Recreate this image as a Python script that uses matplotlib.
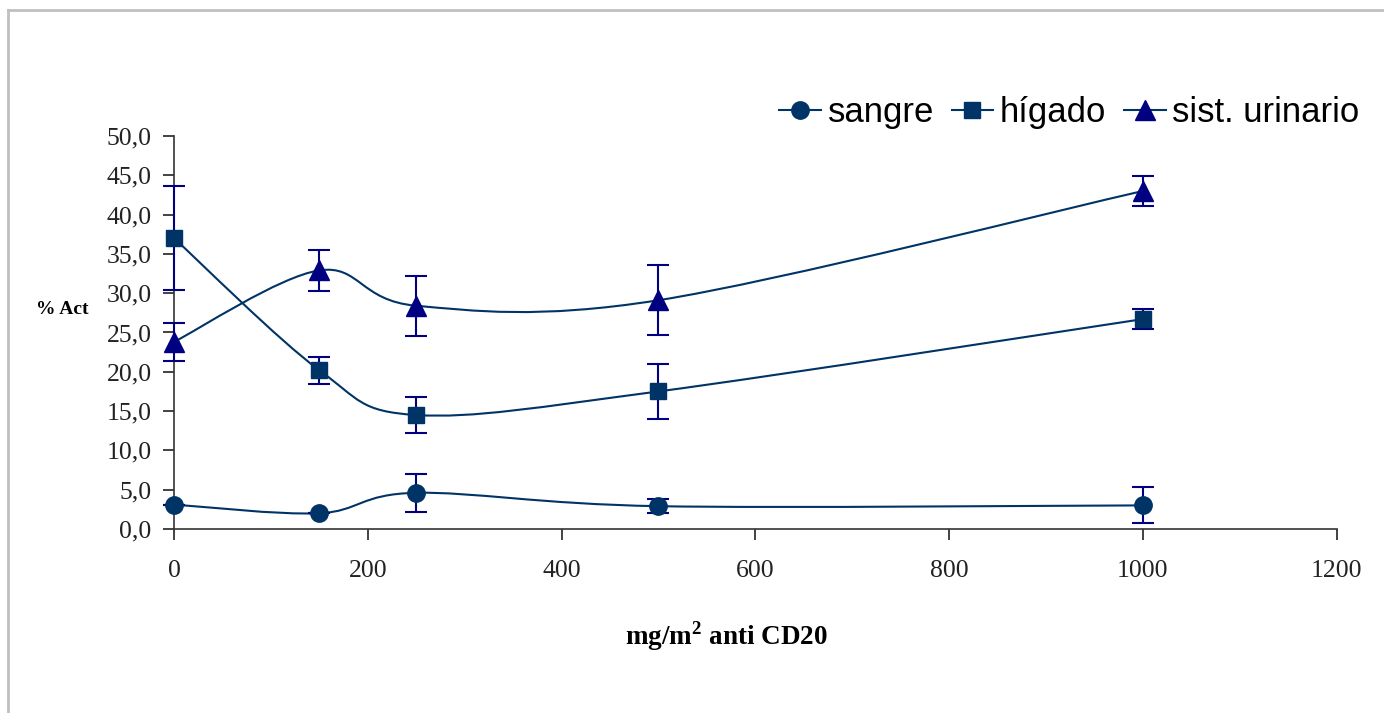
import matplotlib
matplotlib.use("Agg")
import matplotlib.pyplot as plt
from matplotlib.path import Path
from matplotlib.patches import PathPatch
from matplotlib.lines import Line2D
from matplotlib.ticker import FuncFormatter

# datos
dosis = [0, 150, 250, 500, 1000]
sangre = [3.1, 2.0, 4.6, 2.9, 3.0]
sangre_err = [0.0, 0.0, 2.4, 0.9, 2.3]
higado = [37.0, 20.2, 14.5, 17.5, 26.7]
higado_err = [6.6, 1.7, 2.35, 3.45, 1.3]
urinario = [23.8, 32.9, 28.4, 29.1, 43.0]
urinario_err = [2.4, 2.6, 3.8, 4.45, 1.95]
nombres = ["sangre", "hígado", "sist. urinario"]

plt.rcParams['mathtext.fontset'] = 'custom'
plt.rcParams['mathtext.rm'] = 'Liberation Serif'
plt.rcParams['mathtext.bf'] = 'Liberation Serif:bold'

linea = "#003366"
err_col = "#000080"


def curva_suave(ax, xs, ys, color):
    # linea suavizada tipo Excel (Catmull-Rom -> Bezier)
    pts = list(zip(xs, ys))
    ext = [pts[0]] + pts + [pts[-1]]
    verts = [pts[0]]
    codes = [Path.MOVETO]
    for i in range(1, len(ext) - 2):
        p0, p1, p2, p3 = ext[i - 1], ext[i], ext[i + 1], ext[i + 2]
        c1 = (p1[0] + (p2[0] - p0[0]) / 6, p1[1] + (p2[1] - p0[1]) / 6)
        c2 = (p2[0] - (p3[0] - p1[0]) / 6, p2[1] - (p3[1] - p1[1]) / 6)
        verts += [c1, c2, p2]
        codes += [Path.CURVE4] * 3
    ax.add_patch(PathPatch(Path(verts, codes), facecolor="none",
                           edgecolor=color, lw=1.5, zorder=2, clip_on=False))


fig = plt.figure(figsize=(13.84, 7.13), dpi=100)
ax = fig.add_axes([0.1257, 0.2581, 0.9658 - 0.1257, 0.8093 - 0.2581])

series = [
    (sangre, sangre_err, "o", linea, 12.5),
    (higado, higado_err, "s", linea, 12),
    (urinario, urinario_err, "^", "#000080", 14),
]
handles = []
for (vals, errs, mk, mc, ms), nombre in zip(series, nombres):
    curva_suave(ax, dosis, vals, linea)
    eb = ax.errorbar(dosis, vals, yerr=errs, fmt="none", ecolor=err_col,
                     elinewidth=1.5, capsize=8, capthick=1.5, zorder=3)
    for art in eb.lines[1] + eb.lines[2]:
        art.set_clip_on(False)
    ax.plot(dosis, vals, linestyle="none", marker=mk, markersize=ms,
            color=mc, markeredgecolor=mc, zorder=4, clip_on=False)
    handles.append(Line2D([], [], color=linea, lw=1.5, marker=mk,
                          markersize=ms, markerfacecolor=mc,
                          markeredgecolor=mc, label=nombre))

ax.set_xlim(0, 1200)
ax.set_ylim(0, 50)
ax.set_xticks(range(0, 1201, 200))
ax.set_yticks([0, 5, 10, 15, 20, 25, 30, 35, 40, 45, 50])
ax.yaxis.set_major_formatter(FuncFormatter(lambda v, p: f"{v:.1f}".replace(".", ",")))
for lab in ax.get_xticklabels() + ax.get_yticklabels():
    lab.set_fontfamily("Liberation Serif")
    lab.set_fontsize(18.5)
ax.tick_params(axis="x", direction="out", length=8, width=1.2, pad=14, colors="#222222")
ax.tick_params(axis="y", direction="out", length=8, width=1.2, pad=8, colors="#222222")
for s in ["top", "right"]:
    ax.spines[s].set_visible(False)
for s in ["left", "bottom"]:
    ax.spines[s].set_color("#333333")
    ax.spines[s].set_linewidth(1.2)

fig.text(726 / 1384, 1 - 636 / 713, r"mg/m$^{\mathbf{2}}$ anti CD20",
         ha="center", va="center", fontsize=19.5, fontweight="bold",
         family="Liberation Serif")
fig.text(62 / 1384, 1 - 309 / 713, "% Act", ha="center", va="center",
         fontsize=14, fontweight="bold", family="Liberation Serif")

fig.legend(handles=handles, loc="center right", bbox_to_anchor=(0.995, 0.842),
           ncol=3, frameon=False, prop={"family": "Liberation Sans", "size": 25},
           handlelength=1.2, handletextpad=0.2, columnspacing=0.5, borderpad=0)

# marco gris
fig.add_artist(Line2D([7.5 / 1384, 1], [1 - 10 / 713, 1 - 10 / 713],
                      transform=fig.transFigure, color="#C0C0C0", lw=2))
fig.add_artist(Line2D([7.5 / 1384, 7.5 / 1384], [0, 1 - 10 / 713],
                      transform=fig.transFigure, color="#C0C0C0", lw=2))

fig.savefig("out.png", dpi=100)
